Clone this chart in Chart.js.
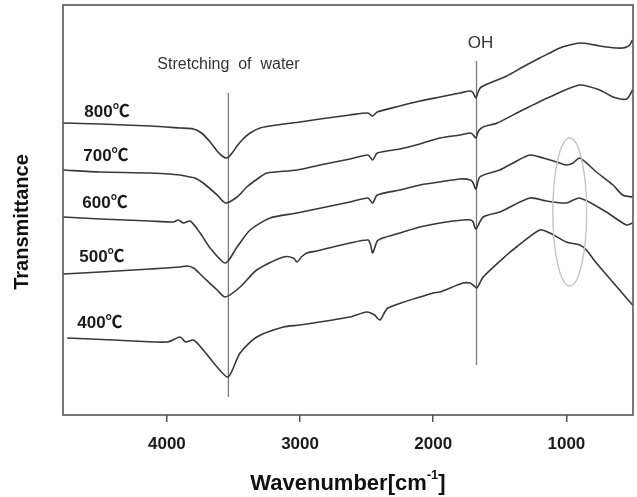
<!DOCTYPE html>
<html>
<head>
<meta charset="utf-8">
<script src="https://cdn.jsdelivr.net/npm/chart.js@4/dist/chart.umd.min.js"></script>
<style>
  html, body { margin: 0; padding: 0; background: #fff; }
  #wrap { width: 637px; height: 497px; }
</style>
</head>
<body>
<div id="wrap"><canvas id="c" width="637" height="497"></canvas></div>
<script>
// FTIR spectra of samples calcined at 400–800 ℃ (offset, arbitrary transmittance units)
const temperatures = ['800℃', '700℃', '600℃', '500℃', '400℃'];

const wn800 = [4778,4500,4125,3900,3800,3740,3675,3623,3585,3548,3510,3473,3428,3375,3300,3173,3000,2850,2625,2490,2455,2420,2250,2100,1950,1800,1720,1700,1680,1660,1640,1575,1448,1328,1200,1125,1050,975,900,825,750,698,623,578,548,525,503];
const t800  = [292,291,289,287,286,282,273,264,259,257,262,269,276,282,287,290,293,296,300,302,299,303,309,314,318,322,324,322,317,324,328,332,339,348,357,362,367,370,372,371,369,368,367,367,368,370,375];

const wn700 = [4778,4500,4125,3900,3830,3790,3727,3623,3560,3473,3400,3300,3248,3023,2850,2625,2490,2455,2420,2250,2100,1950,1800,1720,1700,1680,1660,1625,1520,1328,1125,900,750,650,548,503];
const t700  = [245,243,242,240,238,237,232,220,212,218,228,238,242,245,250,256,260,255,262,266,271,277,280,282,280,277,284,288,292,305,318,330,325,318,316,325];

const wn600 = [4778,4500,4125,3950,3915,3875,3825,3750,3675,3560,3473,3375,3225,3023,2625,2490,2455,2420,2250,2100,1950,1800,1720,1700,1680,1650,1550,1500,1400,1275,1175,1050,1000,950,900,775,650,578,503];
const t600  = [198,196,194,193,195,192,194,182,167,152,168,185,197,202,213,217,212,220,225,230,233,236,235,232,226,238,243,245,252,260,257,252,250,252,257,243,230,220,218];

const wn500 = [4778,4500,4125,3900,3850,3800,3727,3623,3560,3450,3325,3125,3050,3023,2990,2950,2875,2625,2490,2470,2455,2420,2378,2250,2100,1950,1775,1720,1700,1680,1625,1500,1275,1150,1000,900,700,550,503];
const t500  = [141,143,146,148,149,147,138,125,118,128,145,158,157,153,158,162,164,172,175,170,162,174,177,182,188,192,195,195,193,186,198,203,217,214,212,217,203,190,192];

const wn400 = [4748,4400,4000,3900,3860,3800,3727,3623,3540,3450,3325,3125,3000,2625,2500,2440,2400,2340,2000,1950,1777,1725,1700,1673,1625,1448,1375,1200,1125,1000,900,850,775,503];
const t400  = [77,75,73,78,73,75,65,48,38,62,78,88,90,98,103,100,95,107,122,123,132,132,130,127,138,160,168,185,182,173,170,165,152,110];

// x-axis tick values
const xTicks = [4000, 3000, 2000, 1000];

// band markers: water stretching and OH bending
const waterBand = 3538;
const ohBand = 1675;

const FONT = '"Liberation Sans", Arial, "Noto Sans CJK KR", sans-serif';
const LINE = '#383838';

function series(wn, t) { return wn.map((x, i) => ({ x: x, y: t[i] })); }

const spectra = [[wn800, t800], [wn700, t700], [wn600, t600], [wn500, t500], [wn400, t400]];

const datasets = spectra.map((s, i) => ({
  label: temperatures[i],
  data: series(s[0], s[1]),
  borderColor: LINE,
  borderWidth: 1.6,
  pointRadius: 0,
  tension: 0.25,
  fill: false
}));

datasets.push({
  label: 'water', data: [{ x: waterBand, y: 18 }, { x: waterBand, y: 322 }],
  borderColor: '#7a7a7a', borderWidth: 1.3, pointRadius: 0, tension: 0
});
datasets.push({
  label: 'OH', data: [{ x: ohBand, y: 50 }, { x: ohBand, y: 354 }],
  borderColor: '#7a7a7a', borderWidth: 1.3, pointRadius: 0, tension: 0
});

// text annotations placed in data coordinates
const tempLabelPos = [[4620, 303], [4628, 259], [4635, 212], [4658, 158], [4673, 92]];

const decorations = {
  id: 'decorations',
  afterDraw(chart) {
    const { ctx, chartArea: a, scales: { x, y } } = chart;
    ctx.save();

    // plot frame
    ctx.strokeStyle = '#555';
    ctx.lineWidth = 1.6;
    ctx.strokeRect(a.left, a.top, a.right - a.left, a.bottom - a.top);

    // highlighted region around ~975 cm-1
    ctx.strokeStyle = '#c4c4c4';
    ctx.lineWidth = 1.4;
    const cx = x.getPixelForValue(975), cy = y.getPixelForValue(203);
    const rx = Math.abs(x.getPixelForValue(975 - 127) - cx);
    const ry = Math.abs(y.getPixelForValue(203 + 74) - cy);
    ctx.beginPath();
    ctx.ellipse(cx, cy, rx, ry, 0, 0, Math.PI * 2);
    ctx.stroke();

    // temperature labels
    ctx.fillStyle = '#1a1a1a';
    ctx.textBaseline = 'middle';
    ctx.textAlign = 'left';
    ctx.font = 'bold 17px ' + FONT;
    temperatures.forEach((t, i) => {
      const p = tempLabelPos[i];
      ctx.fillText(t, x.getPixelForValue(p[0]), y.getPixelForValue(p[1]));
    });

    // band annotations
    ctx.fillStyle = '#333';
    ctx.font = '16px ' + FONT;
    ctx.fillText('Stretching  of  water', x.getPixelForValue(4072), y.getPixelForValue(350));
    ctx.font = '17px ' + FONT;
    ctx.fillText('OH', x.getPixelForValue(1740), y.getPixelForValue(372));

    // axis titles
    ctx.fillStyle = '#111';
    ctx.font = 'bold 20px ' + FONT;
    ctx.save();
    ctx.translate(22, (a.top + a.bottom) / 2 + 12);
    ctx.rotate(-Math.PI / 2);
    ctx.textAlign = 'center';
    ctx.fillText('Transmittance', 0, 0);
    ctx.restore();

    const main = 'Wavenumber[cm', sup = '-1', tail = ']';
    ctx.font = 'bold 22px ' + FONT;
    const w1 = ctx.measureText(main).width, w3 = ctx.measureText(tail).width;
    ctx.font = 'bold 13px ' + FONT;
    const w2 = ctx.measureText(sup).width;
    const total = w1 + w2 + w3;
    const sx = 348 - total / 2;
    const by = 484;
    ctx.textAlign = 'left';
    ctx.font = 'bold 22px ' + FONT;
    ctx.fillText(main, sx, by);
    ctx.font = 'bold 13px ' + FONT;
    ctx.fillText(sup, sx + w1, by - 9);
    ctx.font = 'bold 22px ' + FONT;
    ctx.fillText(tail, sx + w1 + w2, by);

    ctx.restore();
  }
};

new Chart(document.getElementById('c'), {
  type: 'line',
  data: { datasets },
  options: {
    responsive: false,
    animation: false,
    devicePixelRatio: 1,
    layout: { padding: { top: 5, right: 4, left: 0, bottom: 0 } },
    plugins: { legend: { display: false }, tooltip: { enabled: false } },
    scales: {
      x: {
        type: 'linear',
        reverse: true,
        min: 500,
        max: 4780,
        afterBuildTicks: (s) => { s.ticks = xTicks.map(v => ({ value: v })); },
        afterFit: (s) => { s.height = 82; },
        ticks: {
          color: '#1a1a1a',
          font: { family: FONT, size: 17, weight: 'bold' },
          padding: 12,
          maxRotation: 0,
          callback: (v) => String(v)
        },
        grid: { drawOnChartArea: false, drawTicks: true, tickLength: 7, color: '#555', lineWidth: 1.5 },
        border: { display: false }
      },
      y: {
        min: 0,
        max: 410,
        afterFit: (s) => { s.width = 63; },
        ticks: { display: false },
        grid: { display: false },
        border: { display: false }
      }
    }
  },
  plugins: [decorations]
});
</script>
</body>
</html>
